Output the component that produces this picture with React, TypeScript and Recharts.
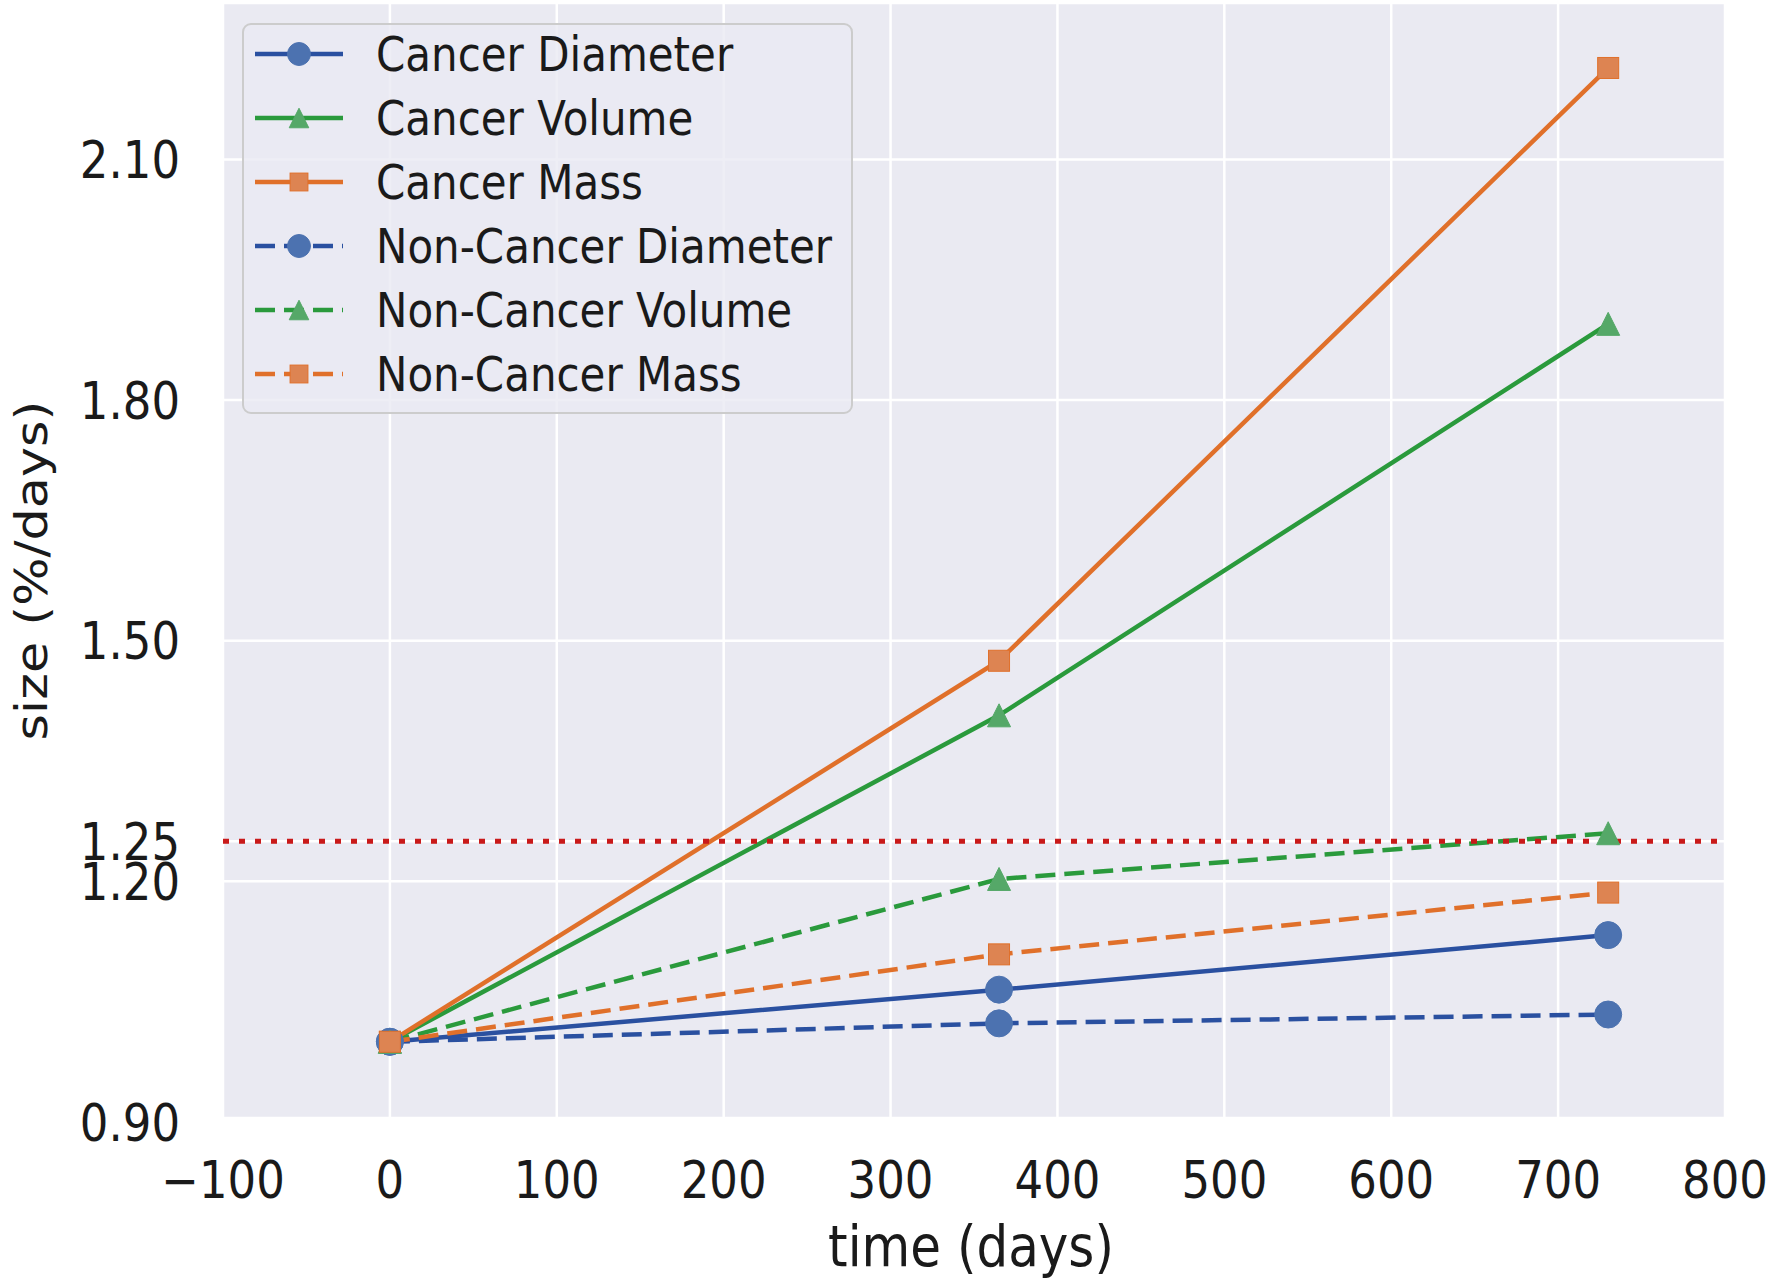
import React from 'react';
import { LineChart, Line, XAxis, YAxis, CartesianGrid, ReferenceLine, Legend } from 'recharts';

const days = [0, 365, 730];
const cancerDiameter = [1.0, 1.065, 1.133];
const cancerVolume = [1.0, 1.407, 1.895];
const cancerMass = [1.0, 1.475, 2.214];
const nonCancerDiameter = [1.0, 1.023, 1.034];
const nonCancerVolume = [1.0, 1.203, 1.26];
const nonCancerMass = [1.0, 1.109, 1.186];

const xTicks = [-100, 0, 100, 200, 300, 400, 500, 600, 700, 800];
const yTicks = [0.9, 1.2, 1.25, 1.5, 1.8, 2.1];
const threshold = 1.25;

const FONT = '"DejaVu Sans", Verdana, sans-serif';
const SY = 1.13;
const TEXT = '#1a1a1a';

type Shape = 'circle' | 'triangle' | 'square';
const series: { key: string; name: string; values: number[]; line: string; marker: string; shape: Shape; dashed: boolean }[] = [
  { key: 'cd', name: 'Cancer Diameter', values: cancerDiameter, line: '#2a50a0', marker: '#4c72b0', shape: 'circle', dashed: false },
  { key: 'cv', name: 'Cancer Volume', values: cancerVolume, line: '#2a9a3c', marker: '#55a868', shape: 'triangle', dashed: false },
  { key: 'cm', name: 'Cancer Mass', values: cancerMass, line: '#e0702a', marker: '#dd8452', shape: 'square', dashed: false },
  { key: 'ncd', name: 'Non-Cancer Diameter', values: nonCancerDiameter, line: '#2a50a0', marker: '#4c72b0', shape: 'circle', dashed: true },
  { key: 'ncv', name: 'Non-Cancer Volume', values: nonCancerVolume, line: '#2a9a3c', marker: '#55a868', shape: 'triangle', dashed: true },
  { key: 'ncm', name: 'Non-Cancer Mass', values: nonCancerMass, line: '#e0702a', marker: '#dd8452', shape: 'square', dashed: true },
];

const data = days.map((t, i) => {
  const row: any = { t };
  series.forEach((s) => {
    row[s.key] = s.values[i];
  });
  return row;
});

function Marker({ cx, cy, shape, color, edge, scale = 1 }: any) {
  if (cx == null || cy == null) return null;
  if (shape === 'circle') {
    return <circle cx={cx} cy={cy} r={13.5 * scale} fill={color} stroke={color} strokeWidth={1} />;
  }
  if (shape === 'triangle') {
    const h = 11.5 * scale;
    return (
      <polygon
        points={`${cx},${cy - h} ${cx - h},${cy + h} ${cx + h},${cy + h}`}
        fill={color}
        stroke={color}
        strokeWidth={1}
      />
    );
  }
  const h = 10.5 * scale;
  return <rect x={cx - h} y={cy - h} width={2 * h} height={2 * h} fill={color} stroke={edge} strokeWidth={1} />;
}

const fmtX = (v: number) => (v < 0 ? '\u2212' + Math.abs(v) : String(v));
const fmtY = (v: number) => v.toFixed(2);

const XTick = (props: any) => (
  <text
    transform={`translate(${props.x},1198) scale(1,${SY})`}
    textAnchor="middle"
    fontSize={45}
    fontFamily={FONT}
    fill={TEXT}
  >
    {fmtX(props.payload.value)}
  </text>
);

const YTick = (props: any) => (
  <text
    transform={`translate(180,${props.y}) scale(1,${SY})`}
    textAnchor="end"
    dy="0.365em"
    fontSize={45}
    fontFamily={FONT}
    fill={TEXT}
  >
    {fmtY(props.payload.value)}
  </text>
);

const XLabel = (props: any) => {
  const vb = props.viewBox || { x: 223, y: 1118, width: 1502 };
  return (
    <text
      transform={`translate(${vb.x + vb.width / 2 - 3},${vb.y + 148}) scale(1,${SY})`}
      textAnchor="middle"
      fontSize={50}
      fontFamily={FONT}
      fill={TEXT}
    >
      time (days)
    </text>
  );
};

const YLabel = (props: any) => {
  const vb = props.viewBox || { x: 0, y: 3, width: 223, height: 1115 };
  return (
    <text
      transform={`translate(47,${vb.y + vb.height / 2 + 10}) rotate(-90) scale(${SY},1)`}
      textAnchor="middle"
      fontSize={45}
      fontFamily={FONT}
      fill={TEXT}
    >
      size (%/days)
    </text>
  );
};

const LegendBox = () => (
  <svg width={611} height={391} style={{ display: 'block' }}>
    <rect x={1} y={1} width={609} height={389} rx={8} ry={8} fill="rgba(234,234,242,0.8)" stroke="#cccccc" strokeWidth={2} />
    {series.map((s, i) => {
      const cy = 31 + 64 * i;
      return (
        <g key={s.key}>
          <line
            x1={13}
            x2={101}
            y1={cy}
            y2={cy}
            stroke={s.line}
            strokeWidth={4.5}
            strokeDasharray={s.dashed ? '20 9' : undefined}
          />
          <Marker cx={57} cy={cy} shape={s.shape} color={s.marker} edge={s.line} scale={0.85} />
          <text
            transform={`translate(134,${cy + 17}) scale(1,${SY})`}
            fontSize={42}
            fontFamily={FONT}
            fill={TEXT}
          >
            {s.name}
          </text>
        </g>
      );
    })}
  </svg>
);

export default function App() {
  return (
    <div style={{ width: 1772, height: 1281, position: 'relative', background: '#ffffff' }}>
      <style>{'body{margin:0;}'}</style>
      <LineChart width={1772} height={1281} data={data} margin={{ top: 3, right: 47, left: 0, bottom: 0 }}>
        <CartesianGrid fill="#eaeaf2" stroke="#ffffff" strokeWidth={2.5} />
        <XAxis
          dataKey="t"
          type="number"
          domain={[-100, 800]}
          ticks={xTicks}
          interval={0}
          axisLine={false}
          tickLine={false}
          height={163}
          tick={<XTick />}
          label={{ content: <XLabel /> }}
          allowDataOverflow
        />
        <YAxis
          type="number"
          domain={[0.905, 2.295]}
          ticks={yTicks}
          interval={0}
          axisLine={false}
          tickLine={false}
          width={223}
          tick={<YTick />}
          label={{ content: <YLabel /> }}
          allowDataOverflow
        />
        {series.map((s) => (
          <Line
            key={s.key}
            type="linear"
            dataKey={s.key}
            name={s.name}
            stroke={s.line}
            strokeWidth={4.5}
            strokeDasharray={s.dashed ? '20 9' : undefined}
            isAnimationActive={false}
            activeDot={false}
            dot={(p: any) => (
              <Marker key={`${s.key}-${p.index}`} cx={p.cx} cy={p.cy} shape={s.shape} color={s.marker} edge={s.line} />
            )}
          />
        ))}
        <ReferenceLine y={threshold} stroke="#c91a1a" strokeWidth={5} strokeDasharray="6 10" />
        <Legend
          layout="vertical"
          align="center"
          verticalAlign="middle"
          wrapperStyle={{ left: 242, top: 23, width: 611, height: 391 }}
          content={() => <LegendBox />}
        />
      </LineChart>
    </div>
  );
}
